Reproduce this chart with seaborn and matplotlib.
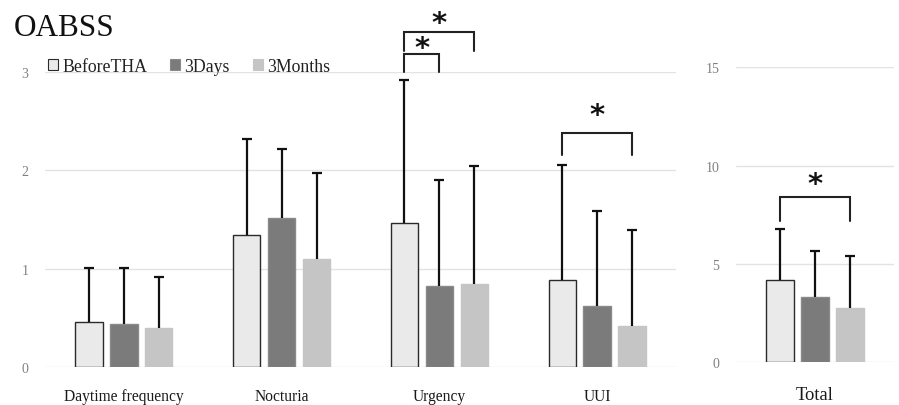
import matplotlib
matplotlib.use("Agg")
import matplotlib.pyplot as plt
from matplotlib.container import BarContainer
import seaborn as sns
import pandas as pd

# OABSS sub-scores by time point (mean and SD)
categories = ["Daytime frequency", "Nocturia", "Urgency", "UUI"]
groups = ["BeforeTHA", "3Days", "3Months"]
before_mean = [0.46, 1.34, 1.46, 0.88]
before_sd = [0.55, 0.98, 1.46, 1.17]
days_mean = [0.44, 1.52, 0.82, 0.62]
days_sd = [0.57, 0.70, 1.08, 0.97]
months_mean = [0.40, 1.10, 0.84, 0.42]
months_sd = [0.52, 0.87, 1.20, 0.97]

# OABSS total score
total_label = ["Total"]
total_mean = [4.17, 3.30, 2.76]
total_sd = [2.61, 2.37, 2.63]

colors = ["#E9EAE9", "#7B7B7B", "#C4C5C4"]
edges = ["#2a2a2a", "#8a8a8a", "#C4C5C4"]

sns.set_theme(style="white")
plt.rcParams["font.family"] = ["Liberation Serif", "DejaVu Serif"]

sub_df = pd.DataFrame({
    "item": categories * 3,
    "group": [g for g in groups for _ in categories],
    "score": before_mean + days_mean + months_mean,
})
sub_sd = [before_sd, days_sd, months_sd]

tot_df = pd.DataFrame({
    "item": total_label * 3,
    "group": groups,
    "score": total_mean,
})

fig = plt.figure(figsize=(8.99, 4.06), dpi=100)
ax = fig.add_axes([45 / 899, 1 - 368 / 406, 631 / 899, 295 / 406])
ax2 = fig.add_axes([736 / 899, 1 - 363.3 / 406, 158 / 899, 295 / 406])

sns.barplot(data=sub_df, x="item", y="score", hue="group", order=categories,
            hue_order=groups, palette=colors, errorbar=None, width=0.664,
            gap=0.217, ax=ax, saturation=1)
sns.barplot(data=tot_df, x="item", y="score", hue="group", hue_order=groups,
            palette=colors, errorbar=None, width=0.664, gap=0.217, ax=ax2,
            saturation=1, legend=False)


def bar_sets(a):
    return [c for c in a.containers if isinstance(c, BarContainer)]


def style_bars(a, sds):
    for i, cont in enumerate(bar_sets(a)):
        xs, hs = [], []
        for p in cont.patches:
            p.set_edgecolor(edges[i])
            p.set_linewidth(1.0)
            p.set_zorder(2)
            xs.append(p.get_x() + p.get_width() / 2)
            hs.append(p.get_height())
        _, caps, _ = a.errorbar(xs, hs, yerr=[[0] * len(hs), sds[i]],
                                fmt="none", ecolor="#111111", elinewidth=1.6,
                                capsize=3.8, capthick=1.6, zorder=3)
        # upper caps only
        caps[0].set_visible(False)


style_bars(ax, sub_sd)
style_bars(ax2, [[s] for s in total_sd])

for a, top, ticks, n in [(ax, 3, [0, 1, 2, 3], 4), (ax2, 15, [0, 5, 10, 15], 1)]:
    a.set_ylim(0, top)
    a.set_xlim(-0.5, n - 0.5)
    a.set_yticks(ticks)
    a.yaxis.grid(True, color="#E3E3E3", linewidth=1.0)
    a.set_axisbelow(True)
    sns.despine(ax=a, left=True, bottom=True)
    a.set_xlabel("")
    a.set_ylabel("")
    a.tick_params(axis="y", length=0, pad=12, labelsize=10, labelcolor="#808080")

ax.tick_params(axis="x", length=0, pad=15, labelsize=11.2, labelcolor="#1a1a1a")
ax2.tick_params(axis="x", length=0, pad=17, labelsize=13.3, labelcolor="#1a1a1a")

sns.move_legend(ax, "center left", bbox_to_anchor=(48 / 899, 1 - 67 / 406),
                bbox_transform=fig.transFigure, ncol=3, title=None,
                frameon=False, fontsize=12.8, handlelength=0.55,
                handleheight=0.55, handletextpad=0.25, columnspacing=1.3,
                borderaxespad=0, borderpad=0)
leg = ax.get_legend()
for t in leg.get_texts():
    t.set_color("#222222")
for h, ec in zip(leg.legend_handles, edges):
    h.set_edgecolor(ec)
    h.set_linewidth(0.8)


def bracket(a, x0, x1, y_leg, y_top, y_star):
    a.plot([x0, x0, x1, x1], [y_leg, y_top, y_top, y_leg], color="#222222",
           linewidth=1.5, clip_on=False, zorder=4, solid_joinstyle="miter")
    a.text((x0 + x1) / 2, y_star, "*", ha="center", va="center",
           fontsize=21, fontweight="bold", family="DejaVu Sans",
           color="#111111", clip_on=False)


# significance markers, anchored on bar centres
def centers(a):
    return [[p.get_x() + p.get_width() / 2 for p in c.patches] for c in bar_sets(a)]


c1 = centers(ax)
c2 = centers(ax2)
bracket(ax, c1[0][2], c1[1][2], 3.0, 3.18, 3.245)
bracket(ax, c1[0][2], c1[2][2], 3.21, 3.41, 3.50)
bracket(ax, c1[0][3], c1[2][3], 2.155, 2.38, 2.56)
bracket(ax2, c2[0][0], c2[2][0], 7.2, 8.42, 9.07)

fig.text(14 / 899, 1 - 29 / 406, "OABSS", fontsize=22.5, color="#111111",
         va="center", ha="left")

fig.savefig("out.png", dpi=100)
